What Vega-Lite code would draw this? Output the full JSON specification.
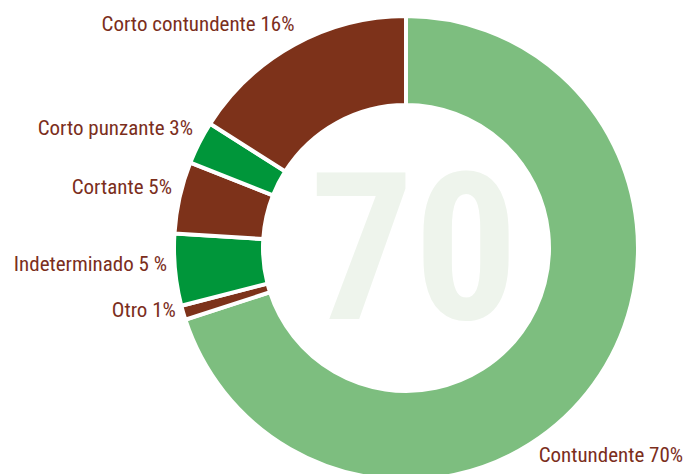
{
  "$schema": "https://vega.github.io/schema/vega-lite/v6.json",
  "autosize": {"type": "none"},
  "width": 570,
  "height": 452,
  "padding": {"left": 121, "top": 22, "right": 0, "bottom": 0},
  "background": "#ffffff",
  "config": {"view": {"stroke": null}},
  "layer": [
    {
      "data": {"values": [{"t": "70"}]},
      "mark": {"type": "text", "font": "Roboto Condensed, Liberation Sans Narrow, DejaVu Sans Condensed, sans-serif", "fontWeight": "bold", "fontSize": 206, "color": "#EEF4EC", "align": "center", "baseline": "alphabetic", "dx": 8, "dy": 71},
      "encoding": {"text": {"field": "t", "type": "nominal"}}
    },
    {
      "data": {"values": [
        {"cat": "Contundente", "label": "Contundente 70%", "value": 70, "ord": 1},
        {"cat": "Otro", "label": "Otro 1%", "value": 1, "ord": 2},
        {"cat": "Indeterminado", "label": "Indeterminado 5 %", "value": 5, "ord": 3},
        {"cat": "Cortante", "label": "Cortante 5%", "value": 5, "ord": 4},
        {"cat": "Corto punzante", "label": "Corto punzante 3%", "value": 3, "ord": 5},
        {"cat": "Corto contundente", "label": "Corto contundente 16%", "value": 16, "ord": 6}
      ]},
      "encoding": {
        "theta": {"field": "value", "type": "quantitative", "stack": true},
        "order": {"field": "ord", "type": "quantitative"}
      },
      "layer": [
        {
          "mark": {"type": "arc", "outerRadius": 232, "innerRadius": 143, "stroke": "#ffffff", "strokeWidth": 4},
          "encoding": {
            "color": {"field": "cat", "type": "nominal", "legend": null,
              "scale": {"domain": ["Contundente", "Otro", "Indeterminado", "Cortante", "Corto punzante", "Corto contundente"],
                        "range": ["#7DBE7F", "#7D321A", "#00963A", "#7D321A", "#00963A", "#7D321A"]}}
          }
        },
        {
          "mark": {"type": "text", "radius": 248, "align": "right", "baseline": "middle", "dx": 8, "dy": -6, "font": "Roboto Condensed, Liberation Sans Narrow, DejaVu Sans Condensed, sans-serif", "fontSize": 21, "color": "#7B2E1C"},
          "encoding": {
            "text": {"condition": {"test": "datum.cat !== 'Contundente'", "field": "label"}, "value": ""}
          }
        },
        {
          "mark": {"type": "text", "radius": 248, "align": "left", "baseline": "alphabetic", "dx": -68, "dy": 68, "font": "Roboto Condensed, Liberation Sans Narrow, DejaVu Sans Condensed, sans-serif", "fontSize": 21, "color": "#7B2E1C"},
          "encoding": {
            "text": {"condition": {"test": "datum.cat === 'Contundente'", "field": "label"}, "value": ""}
          }
        }
      ]
    }
  ]
}
